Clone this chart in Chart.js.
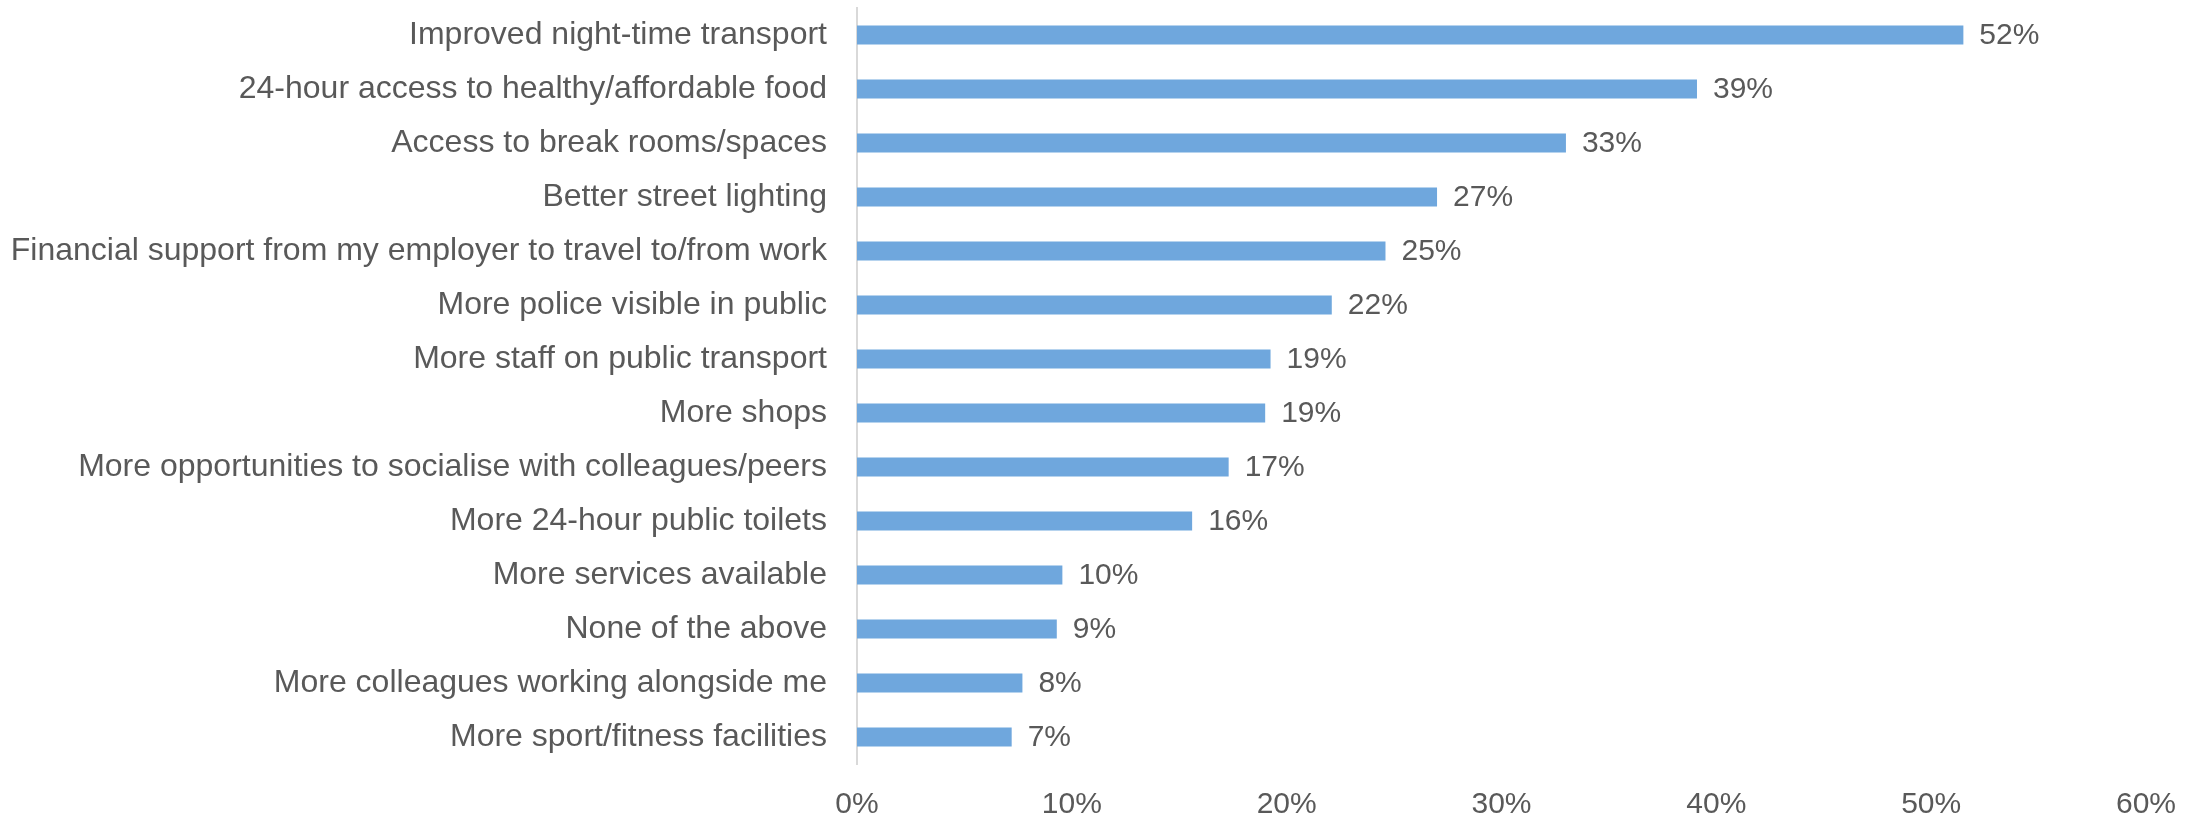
<!DOCTYPE html>
<html>
<head>
<meta charset="utf-8">
<script src="https://cdn.jsdelivr.net/npm/chart.js@4"></script>
<style>
  html, body { margin: 0; padding: 0; background: #ffffff; }
  #wrap { width: 2199px; height: 816px; position: relative; }
</style>
</head>
<body>
<div id="wrap"><canvas id="chart"></canvas></div>
<script>
const categories = [
    'Improved night-time transport',
    '24-hour access to healthy/affordable food',
    'Access to break rooms/spaces',
    'Better street lighting',
    'Financial support from my employer to travel to/from work',
    'More police visible in public',
    'More staff on public transport',
    'More shops',
    'More opportunities to socialise with colleagues/peers',
    'More 24-hour public toilets',
    'More services available',
    'None of the above',
    'More colleagues working alongside me',
    'More sport/fitness facilities',
];

const shares = [0.515, 0.391, 0.330, 0.270, 0.246, 0.221, 0.1925, 0.190, 0.173, 0.156, 0.0956, 0.093, 0.077, 0.072];

const xTicks = [0, 0.1, 0.2, 0.3, 0.4, 0.5, 0.6];

const textColor = '#595959';
const barColor = '#6fa7dd';
const fontFamily = 'Arial, "Liberation Sans", sans-serif';
const numberSize = 30;
const labelSize = 32;

const percent = (v) => Math.round(v * 100) + '%';

// value labels to the right of each bar
const valueLabels = {
    id: 'valueLabels',
    afterDatasetsDraw(chart) {
        const { ctx } = chart;
        const meta = chart.getDatasetMeta(0);
        ctx.save();
        ctx.font = `${numberSize}px ${fontFamily}`;
        ctx.fillStyle = textColor;
        ctx.textAlign = 'left';
        ctx.textBaseline = 'middle';
        meta.data.forEach((bar, i) => {
            ctx.fillText(percent(shares[i]), bar.x + 16, bar.y + 1);
        });
        ctx.restore();
    },
};

Chart.defaults.font.family = fontFamily;
Chart.defaults.font.size = numberSize;
Chart.defaults.color = textColor;

new Chart(document.getElementById('chart'), {
    type: 'bar',
    data: {
        labels: categories,
        datasets: [{
            data: shares,
            backgroundColor: barColor,
            borderWidth: 0,
            barPercentage: 0.35,
            categoryPercentage: 1,
        }],
    },
    options: {
        indexAxis: 'y',
        responsive: true,
        maintainAspectRatio: false,
        animation: false,
        layout: {
            padding: { top: 8, right: 33, bottom: 0, left: 0 },
        },
        plugins: {
            legend: { display: false },
            tooltip: { enabled: false },
        },
        scales: {
            x: {
                min: 0,
                max: 0.6,
                afterBuildTicks(scale) {
                    scale.ticks = xTicks.map((value) => ({ value }));
                },
                afterFit(scale) {
                    scale.height = 52;
                },
                grid: { display: false, drawTicks: false },
                border: { display: false },
                ticks: {
                    padding: 23,
                    maxRotation: 0,
                    font: { size: numberSize },
                    callback: (value) => percent(value),
                },
            },
            y: {
                afterFit(scale) {
                    scale.width = 857;
                    scale.paddingTop = 0;
                    scale.paddingBottom = 0;
                },
                grid: { display: false, drawTicks: false },
                border: { display: true, color: '#d9d9d9', width: 2 },
                ticks: {
                    padding: 30,
                    autoSkip: false,
                    font: { size: labelSize },
                },
            },
        },
    },
    plugins: [valueLabels],
});
</script>
</body>
</html>
